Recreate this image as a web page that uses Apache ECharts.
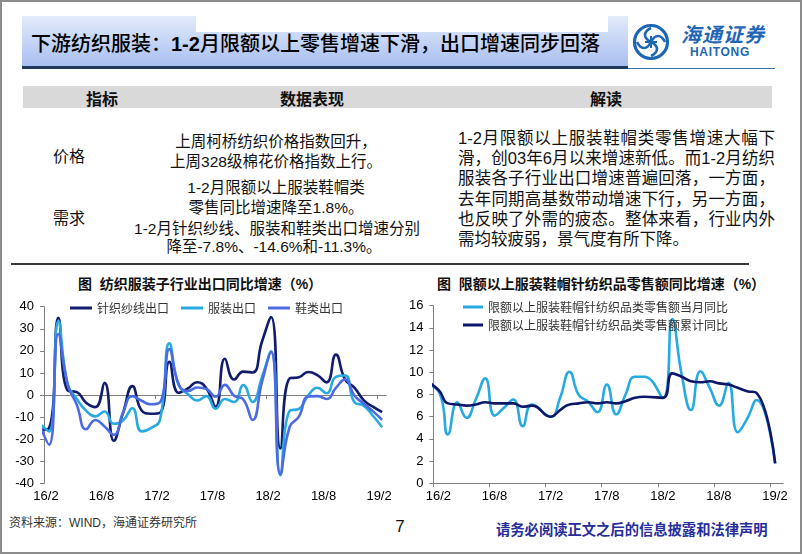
<!DOCTYPE html>
<html>
<head>
<meta charset="utf-8">
<script src="https://cdn.jsdelivr.net/npm/echarts@6/dist/echarts.min.js"></script>
<style>
html,body{margin:0;padding:0;background:#fff;}
#page{position:relative;width:802px;height:554px;overflow:hidden;background:#fff;font-family:"Liberation Sans","Noto Sans CJK SC",sans-serif;color:#111;}
.abs{position:absolute;white-space:nowrap;}
.c{transform:translate(-50%,-50%);}
.l{transform:translate(0,-50%);}
#chart{position:absolute;left:0;top:0;width:802px;height:554px;}
.jl{text-align:justify;text-align-last:justify;}
</style>
</head>
<body>
<div id="page">
  <!-- header box -->
  <div class="abs" style="left:22px;top:16px;width:606px;height:50px;background:linear-gradient(#e3ebfc,#a8bff0);"></div>
  <div class="abs" style="left:196px;top:15px;width:412px;height:17px;background:#fff;"></div>
  <div class="abs" style="left:22px;top:66px;width:606px;height:3px;background:#1f3a60;"></div>
  <div class="abs" style="left:628px;top:67.5px;width:147px;height:1.5px;background:#2f6fb0;"></div>
  <div class="abs l" style="left:31px;top:42px;font-size:20px;font-weight:500;font-family:'Noto Sans CJK SC',sans-serif;color:#000;">下游纺织服装：<span style="font-family:'Liberation Sans';font-weight:bold;">1-2</span>月限额以上零售增速下滑，出口增速同步回落</div>
  <!-- logo -->
  <svg class="abs" style="left:631px;top:22px;" width="40" height="40" viewBox="0 0 40 40">
    <circle cx="20" cy="20" r="16.5" fill="none" stroke="#1c66b6" stroke-width="3.2"/>
    <path d="M20 6 C12 10,12 16,20 20 C28 24,28 30,20 34" fill="none" stroke="#1c66b6" stroke-width="2.6"/>
    <path d="M6 20 C10 28,16 28,20 20 C24 12,30 12,34 20" fill="none" stroke="#1c66b6" stroke-width="2.6"/>
    <line x1="14" y1="20" x2="26" y2="20" stroke="#1c66b6" stroke-width="2"/>
    <line x1="20" y1="14" x2="20" y2="26" stroke="#1c66b6" stroke-width="2"/>
  </svg>
  <div class="abs l" style="left:681px;top:33px;font-size:20px;font-style:italic;font-weight:bold;color:#1f66b5;font-family:'Noto Sans CJK SC';letter-spacing:1px;">海通证券</div>
  <div class="abs l" style="left:690px;top:52px;font-size:12px;font-weight:bold;color:#1f66b5;letter-spacing:0.7px;">HAITONG</div>

  <!-- table header -->
  <div class="abs" style="left:23px;top:86px;width:749px;height:22px;background:#d9d9d9;"></div>
  <div class="abs c" style="left:102px;top:98px;font-size:16px;font-weight:bold;">指标</div>
  <div class="abs c" style="left:312px;top:98px;font-size:16px;font-weight:bold;">数据表现</div>
  <div class="abs c" style="left:606px;top:98px;font-size:16px;font-weight:bold;">解读</div>

  <!-- table body -->
  <div class="abs c" style="left:69px;top:155px;font-size:16px;">价格</div>
  <div class="abs c" style="left:69px;top:217px;font-size:16px;">需求</div>
  <div class="abs c" style="left:276px;top:140px;font-size:15.5px;">上周柯桥纺织价格指数回升，</div>
  <div class="abs c" style="left:276px;top:160px;font-size:15.5px;">上周328级棉花价格指数上行。</div>
  <div class="abs c" style="left:276px;top:186px;font-size:15.5px;">1-2月限额以上服装鞋帽类</div>
  <div class="abs c" style="left:276px;top:206px;font-size:15.5px;">零售同比增速降至1.8%。</div>
  <div class="abs c" style="left:277px;top:226.5px;font-size:15.5px;">1-2月针织纱线、服装和鞋类出口增速分别</div>
  <div class="abs c" style="left:274px;top:245px;font-size:15.5px;">降至-7.8%、-14.6%和-11.3%。</div>

  <div class="abs" style="left:458px;top:128px;width:317px;font-size:16.5px;line-height:20.2px;white-space:normal;">
    <div class="jl">1-2月限额以上服装鞋帽类零售增速大幅下</div>
    <div class="jl">滑，创03年6月以来增速新低。而1-2月纺织</div>
    <div class="jl">服装各子行业出口增速普遍回落，一方面，</div>
    <div class="jl">去年同期高基数带动增速下行，另一方面，</div>
    <div class="jl">也反映了外需的疲态。整体来看，行业内外</div>
    <div>需均较疲弱，景气度有所下降。</div>
  </div>

  <!-- separator -->
  <div class="abs" style="left:11px;top:263px;width:738px;height:2px;background:#3a3a3a;"></div>

  <!-- chart titles -->
  <div class="abs c" style="left:200px;top:283px;font-size:14px;font-weight:bold;">图&nbsp;&nbsp;纺织服装子行业出口同比增速（%）</div>
  <div class="abs c" style="left:601px;top:283px;font-size:14px;font-weight:bold;">图&nbsp;&nbsp;限额以上服装鞋帽针纺织品零售额同比增速（%）</div>

  <!-- footer -->
  <div class="abs l" style="left:9px;top:521px;font-size:12px;color:#333;">资料来源：WIND，海通证券研究所</div>
  <div class="abs c" style="left:400px;top:527px;font-size:17px;">7</div>
  <div class="abs l" style="left:496px;top:528px;font-size:14.3px;font-weight:bold;color:#262d9c;">请务必阅读正文之后的信息披露和法律声明</div>

  <div id="chart"></div>
  <div class="abs" style="left:0;top:0;width:802px;height:554px;border:2px solid #8c8c8c;box-sizing:border-box;pointer-events:none;"></div>
</div>
<script>
// ---- data ----
const exportMonths = ['16/1','16/2','16/3','16/4','16/5','16/6','16/7','16/8','16/9','16/10','16/11','16/12',
  '17/1','17/2','17/3','17/4','17/5','17/6','17/7','17/8','17/9','17/10','17/11','17/12',
  '18/1','18/2','18/3','18/4','18/5','18/6','18/7','18/8','18/9','18/10','18/11','18/12',
  '19/1','19/2'];
const knitYarnExport = [-15.7,-15,35,2,1.3,-3.5,-5.5,5.5,-20.7,-8,4,-7,
  -8.5,-8,15,1,3,5.8,3,-5.3,16.4,7,10.6,10.2,
  24,35.3,-24.2,7.5,8,10.4,9,5.7,18.3,7,3.3,-2.3,
  -5.3,-7.8];
const apparelExport = [-13,-16.5,33.5,5,-1.8,-7.1,-9.7,-7.5,-13,-11.5,-6,-16.5,
  -15,-11,23.4,4.5,0.5,-2.5,-0.5,-6.2,-1.8,-3.2,4.5,-3.2,
  8,19.8,-36.3,-7.2,-6.3,-0.3,3.3,0.8,8.2,8.8,-3.3,-4.8,
  -9.4,-14.6];
const footwearExport = [-13.6,-22.5,27.6,5,-4.5,-15.5,-11.3,-14.3,-18,-8,-0.5,-2.6,
  -4.2,-3.3,20.8,5,1.8,3.4,2.7,-0.8,4.6,-0.3,-2,-11.3,
  5.7,19.5,-35.8,-14.5,-9.8,-0.7,-0.5,-1.8,3.2,7.1,-0.2,-3.9,
  -7.3,-11.3];
const retailMonths = ['15/12','16/2','16/3','16/4','16/5','16/6','16/7','16/8','16/9','16/10','16/11','16/12',
  '17/2','17/3','17/4','17/5','17/6','17/7','17/8','17/9','17/10','17/11','17/12',
  '18/2','18/3','18/4','18/5','18/6','18/7','18/8','18/9','18/10','18/11','18/12',
  '19/2'];
const retailMonthly = [9.0,8.3,4.4,7.3,5.9,7.6,9.45,6.1,6.8,7.55,5.15,7.1,
  6.0,7.7,10.05,7.95,7.35,6.4,8.9,6.2,8.0,9.6,9.6,
  7.7,14.8,9.8,6.6,10.1,8.6,7.0,9.05,4.6,5.8,7.5,
  1.8];
const retailCumulative = [9.6,8.4,7.2,7.1,7.0,7.1,7.3,7.2,7.2,7.2,6.9,7.0,
  6.0,6.6,7.1,7.2,7.3,7.2,7.3,7.2,7.4,7.7,7.8,
  7.7,9.9,9.6,9.2,9.1,9.2,9.0,8.9,8.6,8.3,8.15,
  1.8];
const tickLabels = ['16/2','16/8','17/2','17/8','18/2','18/8','19/2'];
const tickMonths = [0,6,12,18,24,30,36];

// month position on the time axis (months since 16/2, point placed mid-month)
function monthPos(s){ const p = s.split('/').map(Number); return (p[0]-16)*12 + (p[1]-2) + 0.55; }
function pairs(months, vals){ return months.map((m,i)=>[monthPos(m), vals[i]]); }

const FONT = '"Liberation Sans","Noto Sans CJK SC",sans-serif';
const AX = '#808080';
const NAVY = '#111c6c', CYAN = '#27a9e1', MID = '#4c6be2';

const chart = echarts.init(document.getElementById('chart'), null, {renderer:'canvas'});

function xLine(grid, max){
  return {type:'value', gridIndex:grid, min:0, max:max, position:'bottom',
    axisLine:{show:true, onZero:true, lineStyle:{color:AX, width:1}},
    axisTick:{show:true, customValues:tickMonths, length:4, lineStyle:{color:AX}},
    axisLabel:{show:false}, splitLine:{show:false}};
}
function xLabels(grid, max, shift){
  return {type:'value', gridIndex:grid, min:0, max:max, position:'bottom',
    axisLine:{show:false, onZero:false}, axisTick:{show:false}, splitLine:{show:false},
    axisLabel:{show:true, customValues:tickMonths, margin:7, fontSize:13, color:'#000', fontFamily:FONT,
      padding:[0,0,0,shift*2],
      formatter:(v)=>{ const i = tickMonths.indexOf(Math.round(v)); return i>=0 ? tickLabels[i] : ''; }}};
}
function yAx(grid, min, max, interval){
  return {type:'value', gridIndex:grid, min:min, max:max, interval:interval,
    axisLine:{show:true, lineStyle:{color:AX, width:1}},
    axisTick:{show:true, length:4, lineStyle:{color:AX}},
    axisLabel:{fontSize:13, color:'#000', margin:10, fontFamily:FONT},
    splitLine:{show:false}};
}
function line(name, data, color, xi, yi){
  return {name:name, type:'line', xAxisIndex:xi, yAxisIndex:yi, data:data, symbol:'none',
    smooth:0.5, clip:true, lineStyle:{color:color, width:2.6}, itemStyle:{color:color}, animation:false};
}

chart.setOption({
  animation:false,
  textStyle:{fontFamily:FONT},
  grid:[
    {left:44, top:306.7, width:342.3, height:176.6},
    {left:433.4, top:305.7, width:349.7, height:177.6}
  ],
  xAxis:[ xLine(0,37), xLabels(0,37,2), xLine(1,37.4), xLabels(1,37.4,5) ],
  yAxis:[ yAx(0,-40,40,10), yAx(1,0,16,2) ],
  legend:[
    {data:['针织纱线出口','服装出口','鞋类出口'], left:70, top:302, icon:'rect', itemWidth:22, itemHeight:3,
     itemGap:12, padding:0, textStyle:{fontSize:12, color:'#333', fontFamily:'"Noto Sans CJK SC"'}},
    {data:['限额以上服装鞋帽针纺织品类零售额当月同比','限额以上服装鞋帽针纺织品类零售额累计同比'],
     orient:'vertical', left:463, top:301, icon:'rect', itemWidth:20, itemHeight:3, itemGap:6, padding:0,
     textStyle:{fontSize:12, color:'#333', fontFamily:'"Noto Sans CJK SC"'}}
  ],
  series:[
    line('针织纱线出口', pairs(exportMonths, knitYarnExport), NAVY, 0, 0),
    line('服装出口', pairs(exportMonths, apparelExport), CYAN, 0, 0),
    line('鞋类出口', pairs(exportMonths, footwearExport), MID, 0, 0),
    line('限额以上服装鞋帽针纺织品类零售额当月同比', pairs(retailMonths, retailMonthly), CYAN, 2, 1),
    line('限额以上服装鞋帽针纺织品类零售额累计同比', pairs(retailMonths, retailCumulative), '#0c176a', 2, 1)
  ]
});
</script>
</body>
</html>
